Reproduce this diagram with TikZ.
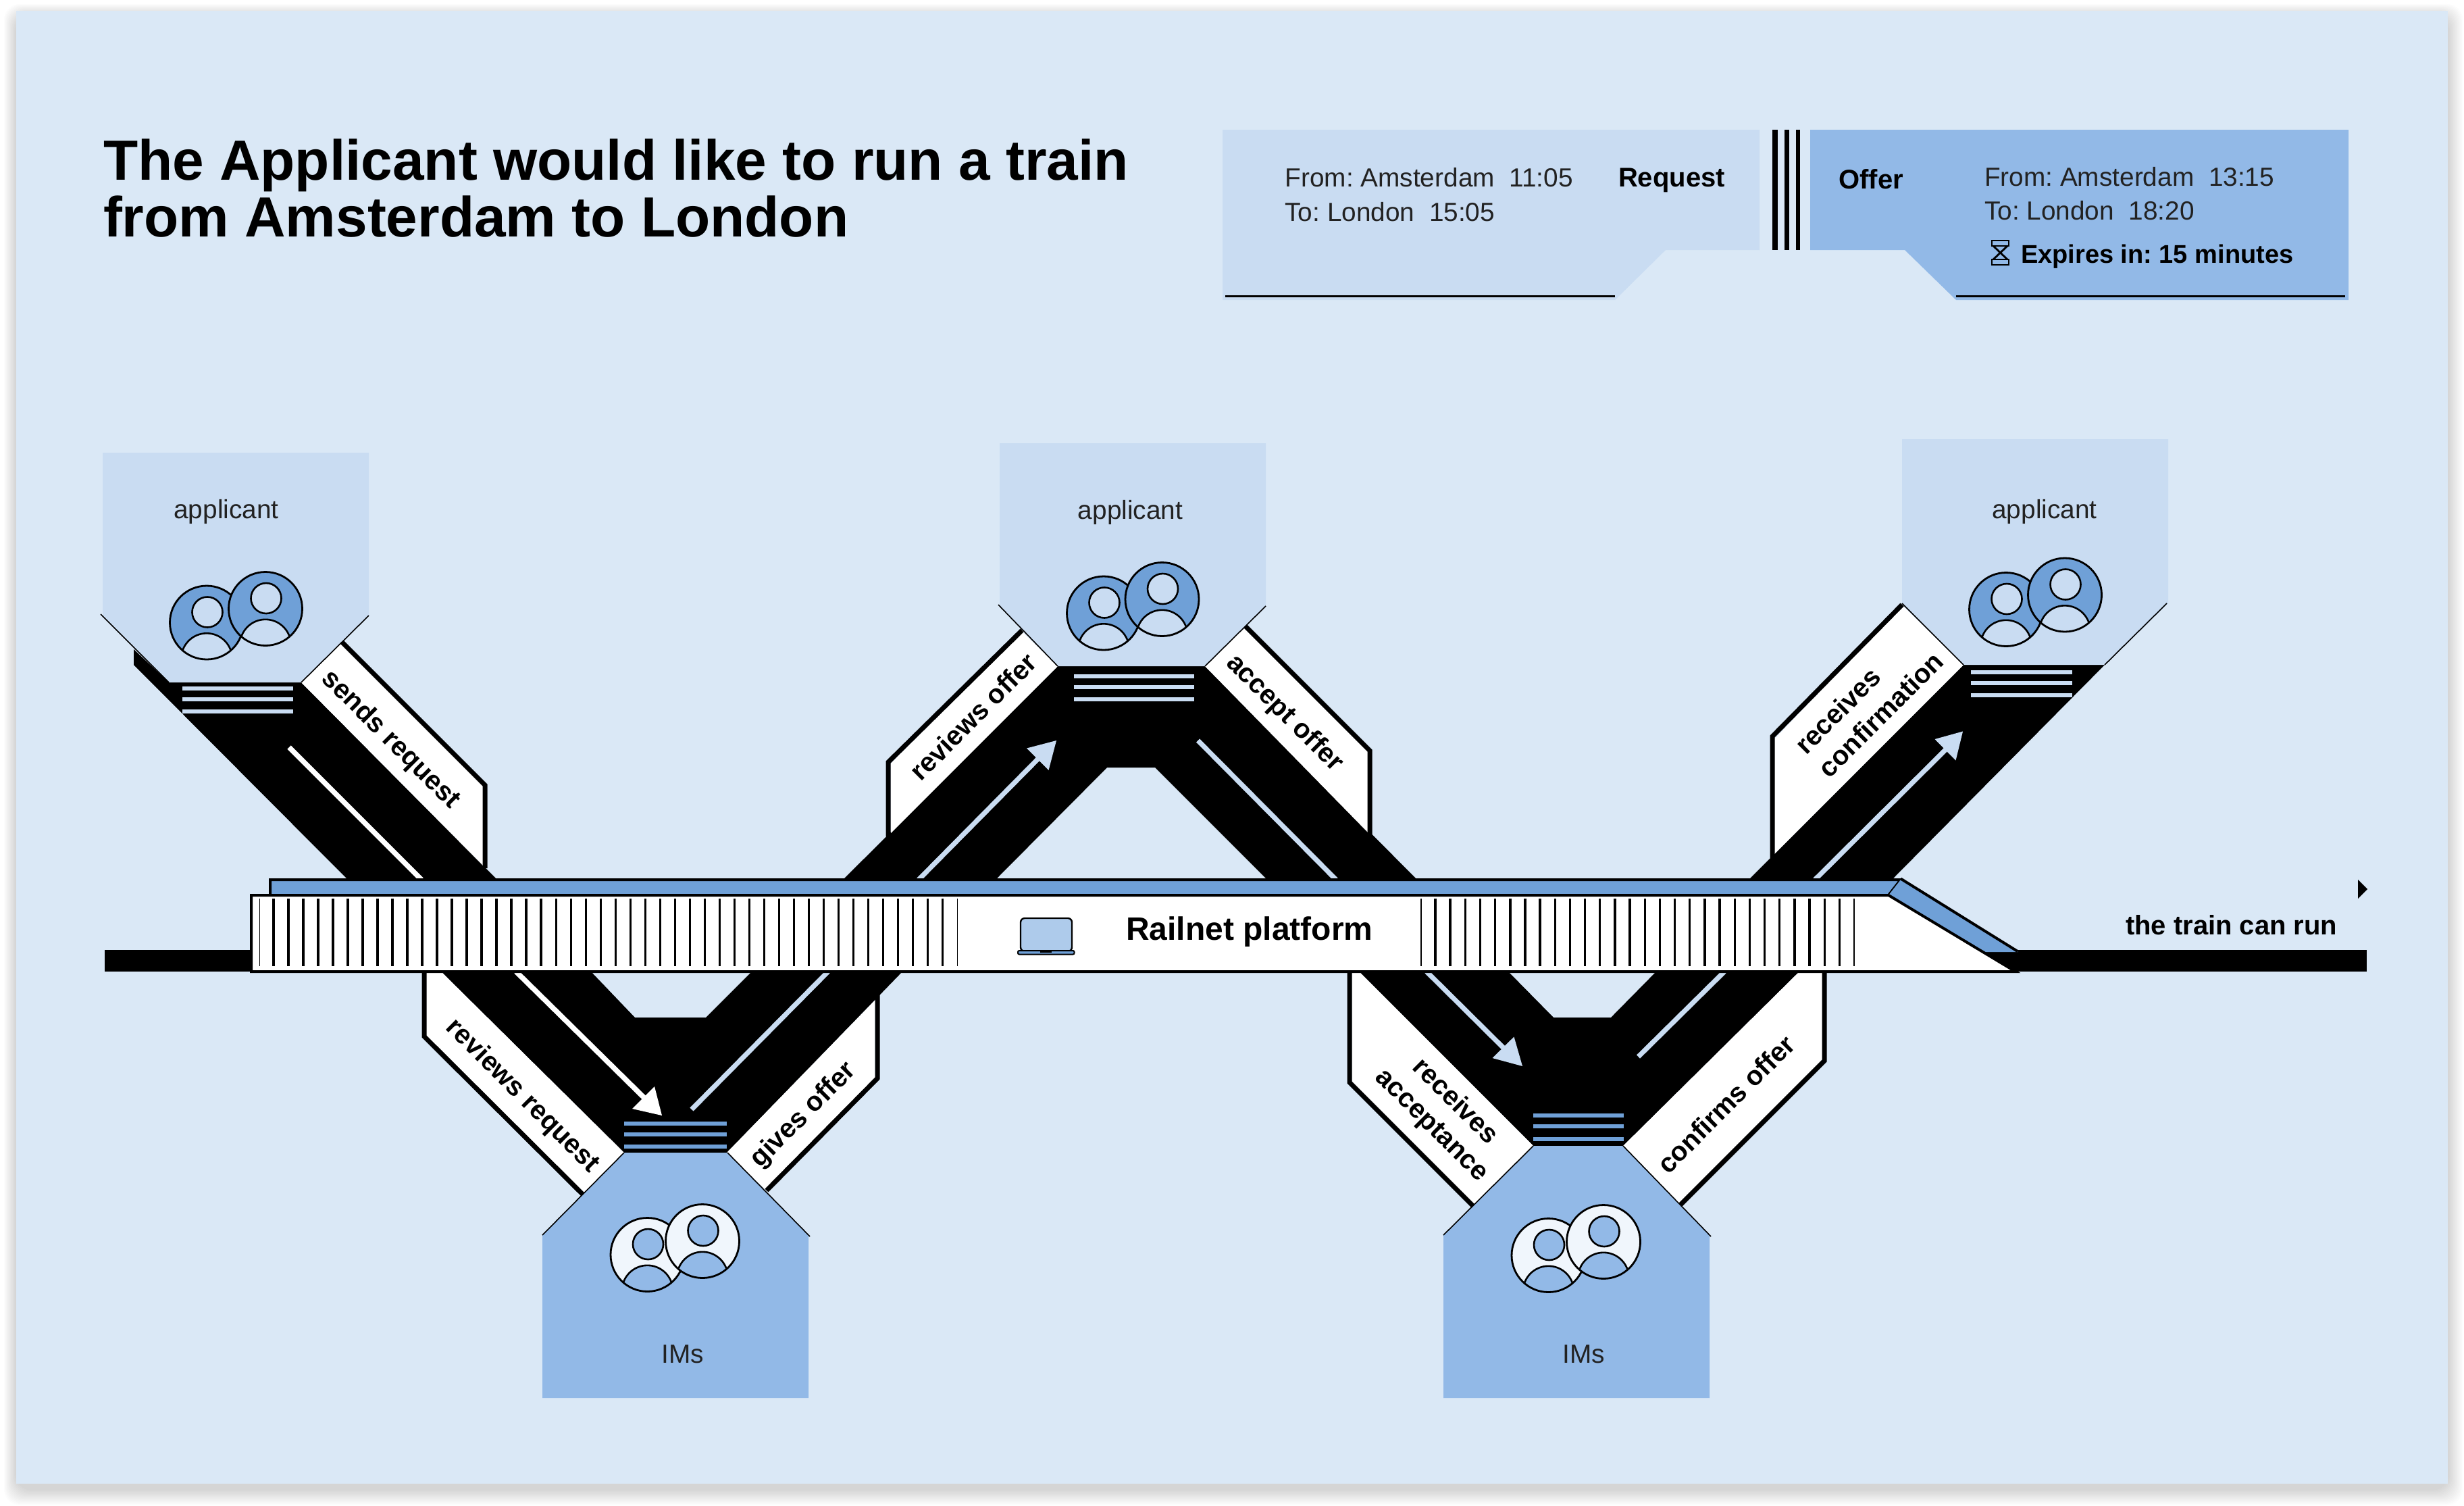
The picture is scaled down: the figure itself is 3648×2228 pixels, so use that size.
\documentclass[tikz,border=0pt]{standalone}
\usepackage{fontspec}
\setmainfont{Liberation Sans}
\frenchspacing
\definecolor{pagebg}{HTML}{DAE8F6}
\definecolor{lightblue}{HTML}{C9DCF2}
\definecolor{midblue}{HTML}{92B9E7}
\definecolor{strongblue}{HTML}{6FA0D7}
\definecolor{softwhite}{HTML}{F0F6FC}
\definecolor{laptopblue}{HTML}{AECBEB}
\definecolor{inktext}{HTML}{222222}
\tikzset{
  plain/.style={inner sep=0pt,outer sep=0pt,anchor=base,text=inktext,font=\fontsize{9.7pt}{12.5pt}\selectfont},
  plainw/.style={plain,anchor=base west},
  boldw/.style={inner sep=0pt,outer sep=0pt,anchor=base west,text=black,font=\fontsize{10pt}{12.25pt}\selectfont\bfseries},
  flowlabel/.style={inner sep=0pt,outer sep=0pt,anchor=center,text=black,align=center,font=\fontsize{10pt}{12.25pt}\selectfont\bfseries},
  labelborder/.style={draw=black,line width=1.75pt,miter limit=10},
  hubedge/.style={draw=black,line width=0.4pt},
  whiteflow/.style={draw=white,line width=1.9pt},
  paleflow/.style={draw=lightblue,line width=1.8pt},
  tick/.style={draw=black,line width=0.85pt},
  thintick/.style={draw=black,line width=0.4pt},
  platformline/.style={draw=black,line width=1pt,miter limit=10},
}
\newcommand{\hubstripes}[6]{%
  \fill[#6] (#1,#3) rectangle (#2,#3+6);
  \fill[#6] (#1,#4) rectangle (#2,#4+6);
  \fill[#6] (#1,#5) rectangle (#2,#5+6);
}
\newcommand{\onepers}[4]{%
  \fill[#3] (#1,#2) circle (54.5);
  \begin{scope}
    \clip (#1,#2) circle (54.5);
    \filldraw[fill=#4,draw=black,line width=0.65pt] ({#1},{#2+53.5}) circle (37.7);
  \end{scope}
  \filldraw[fill=#4,draw=black,line width=0.65pt] ({#1+1},{#2-15.5}) circle (22.5);
  \draw[black,line width=0.7pt] (#1,#2) circle (54.5);
}
\newcommand{\twopers}[6]{\onepers{#1}{#2}{#5}{#6}\onepers{#3}{#4}{#5}{#6}}
\begin{document}
\begin{tikzpicture}[x=0.25pt,y=-0.25pt]
\useasboundingbox (0,0) rectangle (3648,2228);
% card shadow
\foreach \i in {1,...,14}{
  \fill[black,opacity=0.012,rounded corners=6pt]
    ({24-\i*1.3},{24-\i*1.3}) rectangle ({3624+\i*1.6},{2204+\i*1.7});
}
\fill[pagebg] (24,16) rectangle (3624,2196);

% title
\node[boldw,font=\fontsize{20.95pt}{21pt}\selectfont\bfseries] (title1) at (153,266) {The Applicant would like to run a train};
\node[boldw,font=\fontsize{20.95pt}{21pt}\selectfont\bfseries] (title2) at (153,350) {from Amsterdam to London};

% request card
\fill[lightblue] (1810,192) -- (2605,192) -- (2605,370) -- (2466,370) -- (2391,444) -- (1810,444) -- cycle;
\draw[black,line width=0.75pt] (1814,438.5) -- (2391,438.5);
\node[plainw] (reqfrom) at (1902.5,276.5) {From: Amsterdam\ \ 11:05};
\node[plainw] (reqto) at (1902.5,327) {To: London\ \ 15:05};
\node[boldw] (reqhead) at (2396,276.5) {Request};
% separator
\fill[black] (2624,192) rectangle (2632,370);
\fill[black] (2642,192) rectangle (2649,370);
\fill[black] (2659,192) rectangle (2665,370);
% offer card
\fill[midblue] (2680,192) -- (3477,192) -- (3477,444) -- (2896,444) -- (2820,370) -- (2680,370) -- cycle;
\draw[black,line width=0.75pt] (2896,438.5) -- (3472,438.5);
\node[boldw] (offerhead) at (2722.5,279) {Offer};
\node[plainw] (offfrom) at (2938,275) {From: Amsterdam\ \ 13:15};
\node[plainw] (offto) at (2938,325.5) {To: London\ \ 18:20};
\node[boldw,font=\fontsize{9.5pt}{12pt}\selectfont\bfseries] (offexp) at (2992,389) {Expires in: 15 minutes};
% hourglass
\draw[black,line width=0.7pt] (2949,356) rectangle (2974,364);
\draw[black,line width=0.7pt] (2949,384) rectangle (2974,392);
\draw[black,line width=0.7pt] (2951,364) -- (2972,384) (2972,364) -- (2951,384);

% black bands
\fill[black] (198,961) -- (250,1010) -- (446,1010) -- (739,1305) -- (518,1305) -- (198,984) -- cycle;
\fill[black] (1246,1304) -- (1566,986) -- (1784,986) -- (2100,1304) -- (1878,1304) -- (1710,1136) -- (1639,1136) -- (1472,1304) -- cycle;
\fill[black] (2587,1304) -- (2907,984) -- (3116,984) -- (2799,1304) -- cycle;
\fill[black] (651,1436) -- (924,1706) -- (1076,1706) -- (1338,1436) -- (1115,1436) -- (1045,1506) -- (940,1506) -- (873,1436) -- cycle;
\fill[black] (2010,1436) -- (2270,1696) -- (2403,1696) -- (2666,1436) -- (2454,1436) -- (2385,1506) -- (2300,1506) -- (2231,1436) -- cycle;

% flow lines and arrowheads
\coordinate (f1a) at (428,1106); \coordinate (f1b) at (624,1302);
\coordinate (f2a) at (764,1438); \coordinate (f2b) at (958,1629);
\coordinate (f3a) at (1024,1642); \coordinate (f3b) at (1226,1438);
\coordinate (f4a) at (1360,1302); \coordinate (f4b) at (1538,1122);
\coordinate (f5a) at (1773.5,1096); \coordinate (f5b) at (1978,1302);
\coordinate (f6a) at (2112,1438); \coordinate (f6b) at (2228,1553);
\coordinate (f7a) at (2425.5,1564); \coordinate (f7b) at (2553,1438);
\coordinate (f8a) at (2687,1302); \coordinate (f8b) at (2882,1108);
\draw[whiteflow] (f1a) -- (f1b);
\draw[whiteflow] (f2a) -- (f2b);
\fill[white] (980,1651) -- (969,1608) -- (936,1641) -- cycle;
\draw[paleflow] (f3a) -- (f3b);
\draw[paleflow] (f4a) -- (f4b);
\fill[lightblue] (1564,1096) -- (1520,1107.5) -- (1552.5,1140) -- cycle;
\draw[paleflow] (f5a) -- (f5b);
\draw[paleflow] (f6a) -- (f6b);
\fill[lightblue] (2254,1578) -- (2241.5,1534.5) -- (2209.5,1566) -- cycle;
\draw[paleflow] (f7a) -- (f7b);
\draw[paleflow] (f8a) -- (f8b);
\fill[lightblue] (2906,1082.5) -- (2864.5,1094) -- (2895.5,1125.5) -- cycle;

% label flags
\fill[white] (446,1010) -- (504,953) -- (715,1163) -- (715,1281) -- cycle;
\draw[labelborder] (506,950) -- (718,1162) -- (718,1285);
\fill[white] (1566,986) -- (1513,935) -- (1319,1130) -- (1319,1233) -- cycle;
\draw[labelborder] (1513,933) -- (1315,1128) -- (1315,1238);
\fill[white] (1784,986) -- (1842,930) -- (2025,1112) -- (2025,1232) -- cycle;
\draw[labelborder] (1844,927) -- (2028,1111) -- (2028,1241);
\fill[white] (2907,984) -- (2816,896) -- (2627,1094) -- (2627,1264) -- cycle;
\draw[labelborder] (2816,895) -- (2624,1090) -- (2624,1270);
\fill[white] (631,1438) -- (653,1438) -- (924,1706) -- (864,1768) -- (631,1534) -- cycle;
\draw[labelborder] (628,1438) -- (628,1534) -- (865,1770);
\fill[white] (1076,1706) -- (1295,1481) -- (1295,1596) -- (1135,1762) -- cycle;
\draw[labelborder] (1299,1471) -- (1299,1596) -- (1135,1762);
\fill[white] (2002,1438) -- (2012,1438) -- (2270,1696) -- (2182,1786) -- (2002,1602) -- cycle;
\draw[labelborder] (1998,1438) -- (1998,1602) -- (2182,1786);
\fill[white] (2403,1696) -- (2664,1438) -- (2698,1438) -- (2698,1570) -- (2486,1784) -- cycle;
\draw[labelborder] (2701,1438) -- (2701,1570) -- (2486,1785);

\node[flowlabel,rotate=-45] (lsends) at (578,1095) {sends request};
\node[flowlabel,rotate=-45] (lrevreq) at (773,1622.5) {reviews request};
\node[flowlabel,rotate=45] (lgives) at (1190,1651) {gives offer};
\node[flowlabel,rotate=45] (lrevoff) at (1440.5,1060.5) {reviews offer};
\node[flowlabel,rotate=-45] (laccept) at (1901.5,1056) {accept offer};
\node[flowlabel,rotate=-45] (lrecacc) at (2136.5,1648.5) {receives\\acceptance};
\node[flowlabel,rotate=45] (lconfirms) at (2555,1634) {confirms offer};
\node[flowlabel,rotate=45,align=left] (lreccon) at (2767,1040) {receives\\confirmation};

% applicant and IM blocks
\fill[lightblue] (152,670) -- (546,670) -- (546,911) -- (446,1010) -- (250,1010) -- (152,911) -- cycle;
\draw[hubedge] (149,909) -- (250,1010) (546,911) -- (446,1010);
\fill[lightblue] (1480,656) -- (1874,656) -- (1874,897) -- (1784,986) -- (1566,986) -- (1480,897) -- cycle;
\draw[hubedge] (1478,895) -- (1566,986) (1874,897) -- (1784,986);
\fill[lightblue] (2816,650) -- (3210,650) -- (3210,893) -- (3116,984) -- (2907,984) -- (2816,893) -- cycle;
\draw[hubedge] (2816,893) -- (2907,984) (3208,893) -- (3116,984);
\fill[midblue] (803,2069) -- (1197,2069) -- (1197,1828) -- (1077,1706) -- (924,1706) -- (803,1828) -- cycle;
\draw[hubedge] (803,1828) -- (924,1706) (1199,1830) -- (1077,1706);
\fill[midblue] (2137,2069) -- (2531,2069) -- (2531,1828) -- (2403,1696) -- (2270,1696) -- (2137,1828) -- cycle;
\draw[hubedge] (2137,1828) -- (2270,1696) (2533,1830) -- (2403,1696);

\hubstripes{270}{434}{1016}{1032}{1050}{lightblue}
\hubstripes{1590}{1768}{998}{1014}{1032}{lightblue}
\hubstripes{2918}{3068}{992}{1008}{1026}{lightblue}
\hubstripes{924}{1076}{1660}{1676}{1694}{strongblue}
\hubstripes{2270}{2404}{1648}{1664}{1683}{strongblue}

\twopers{306}{921.5}{393}{901}{strongblue}{lightblue}
\twopers{1634}{907.5}{1720.5}{887}{strongblue}{lightblue}
\twopers{2970}{902}{3057}{880.5}{strongblue}{lightblue}
\twopers{958.5}{1857}{1040}{1837}{softwhite}{midblue}
\twopers{2292.5}{1858}{2374}{1838}{softwhite}{midblue}

\node[plain] (app1) at (335,767.5) {applicant};
\node[plain] (app2) at (1673.5,768) {applicant};
\node[plain] (app3) at (3027,767.5) {applicant};
\node[plain] (ims1) at (1011,2017) {IMs};
\node[plain] (ims2) at (2345,2017) {IMs};

% track
\fill[black] (155,1406) rectangle (372,1437.5);
\fill[black] (2930,1406) rectangle (3504,1437.5);
\fill[black] (3491,1302) -- (3505,1316) -- (3491,1330) -- cycle;
\node[boldw] (trainrun) at (3147,1383) {the train can run};

% platform
\filldraw[fill=strongblue,platformline] (400,1302) -- (2814,1302) -- (2796,1325) -- (400,1325) -- cycle;
\fill[strongblue] (2814,1302) -- (2988,1409) -- (2936,1409) -- (2796,1325) -- cycle;
\draw[platformline] (2814,1300.5) -- (2987,1408);
\filldraw[fill=white,platformline] (372,1325) -- (2796,1325) -- (2984,1438) -- (372,1438) -- cycle;
\draw[thintick] (384.5,1330) -- (384.5,1430);
\foreach \k in {0,...,45}{ \draw[tick] ({405+\k*22.01},1330) -- ({405+\k*22.01},1430); }
\draw[thintick] (1417.5,1330) -- (1417.5,1430);
\draw[thintick] (2104,1330) -- (2104,1430);
\foreach \k in {0,...,27}{ \draw[tick] ({2125+\k*22.16},1330) -- ({2125+\k*22.16},1430); }
\draw[thintick] (2745,1330) -- (2745,1430);
% laptop
\filldraw[fill=laptopblue,draw=black,line width=0.6pt,rounded corners=1.5pt] (1511,1359) rectangle (1587,1408);
\filldraw[fill=strongblue,draw=black,line width=0.5pt,rounded corners=0.5pt] (1507,1407) rectangle (1590.5,1412.5);
\fill[black] (1540,1407) rectangle (1557,1409.5);
\node[boldw,font=\fontsize{12pt}{14pt}\selectfont\bfseries] (platform) at (1667,1391.5) {Railnet platform};
\end{tikzpicture}
\end{document}
